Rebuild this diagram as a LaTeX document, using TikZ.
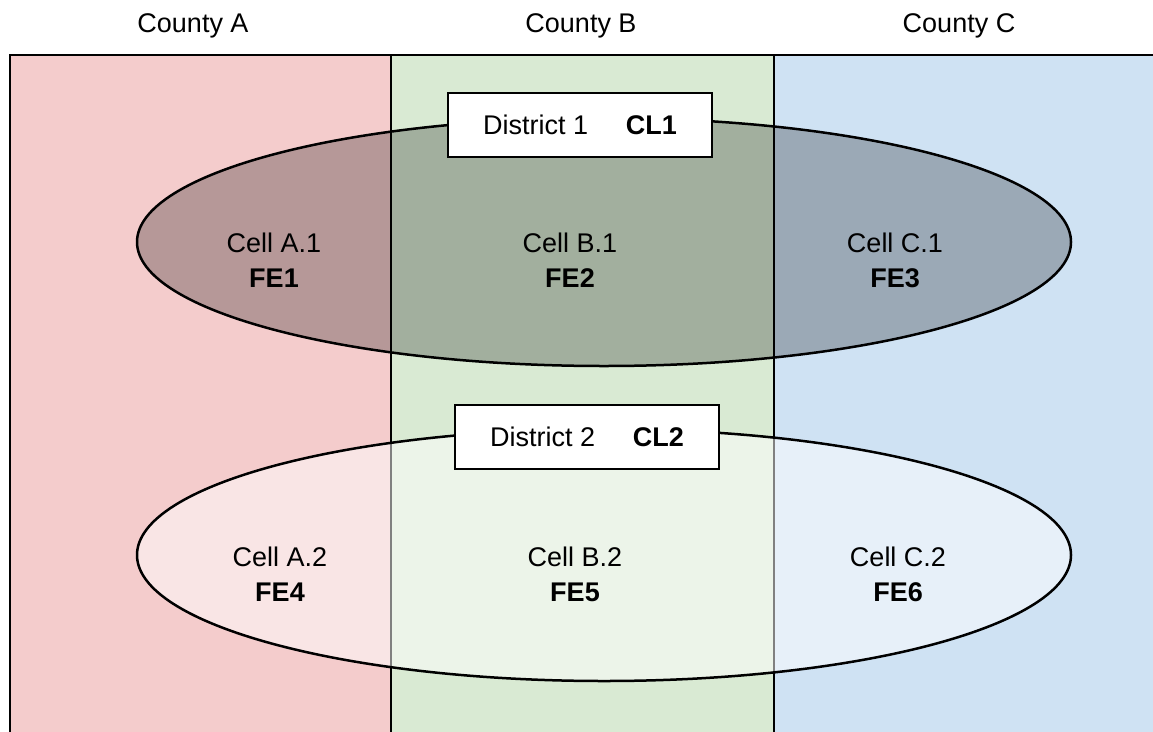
\documentclass[tikz,border=0pt]{standalone}
\usepackage{fontspec}
\setmainfont{Liberation Sans}
\usepackage{tikz}
\usetikzlibrary{positioning}
\definecolor{countyA}{HTML}{F4CCCC}
\definecolor{countyB}{HTML}{D9EAD3}
\definecolor{countyC}{HTML}{CFE2F3}
\tikzset{countybox/.style={draw=black, line width=2.5pt}}
\tikzset{countylabel/.style={inner sep=0pt, font=\fontsize{27}{35}\selectfont}}
\tikzset{cell/.style={align=center, inner sep=0pt, font=\fontsize{27}{35}\selectfont}}
\tikzset{district/.style={draw, line width=2.5pt, fill=white, minimum width=264pt, minimum height=64pt, inner sep=0pt, font=\fontsize{27}{35}\selectfont}}

\begin{document}
\begin{tikzpicture}[x=1pt,y=-1pt]
  \clip (0,0) rectangle (1153,731);
  \foreach \xa/\xb/\xt/\col/\lab in {
    10/391/193/countyA/A,
    391/774/581/countyB/B,
    774/1170/959/countyC/C%
  } {
    \draw[countybox, fill=\col] (\xa,55) rectangle (\xb,745);
    \node[countylabel] (county\lab) at (\xt,26) {County \lab};
  }

  \draw[line width=2.5pt, fill=black, fill opacity=0.25] (604,242) ellipse [x radius=467, y radius=124];
  \draw[line width=2.5pt, fill=white, fill opacity=0.5] (604,555) ellipse [x radius=467, y radius=126];

  \foreach \x/\y/\cname/\fe in {
    274/260/A.1/1,
    570/260/B.1/2,
    895/260/C.1/3,
    280/574/A.2/4,
    575/574/B.2/5,
    898/574/C.2/6%
  } {
    \node[cell] (cell\fe) at (\x,\y) {Cell \cname\\\textbf{FE\fe}};
  }

  \node[district] (district1) at (580,125) {District 1\hspace{1.4em}\textbf{CL1}};
  \node[district] (district2) at (587,437) {District 2\hspace{1.4em}\textbf{CL2}};
\end{tikzpicture}
\end{document}
